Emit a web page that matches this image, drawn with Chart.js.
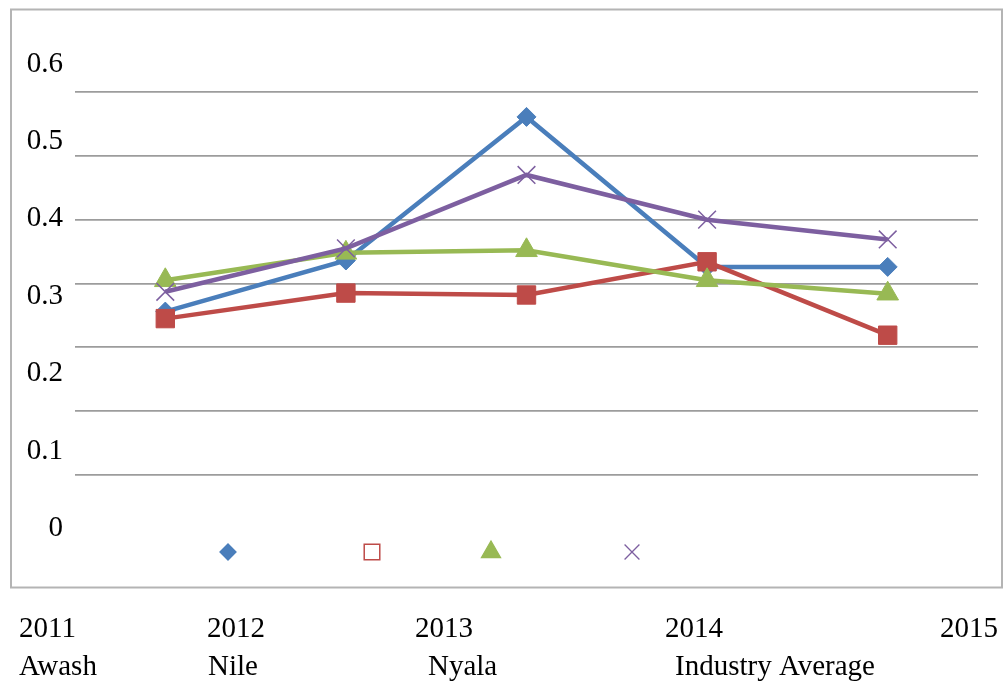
<!DOCTYPE html>
<html>
<head>
<meta charset="utf-8">
<script src="https://cdn.jsdelivr.net/npm/chart.js@4.4.1/dist/chart.umd.min.js"></script>
<style>
  html, body { margin: 0; padding: 0; background: #fff; }
  #wrap { width: 1003px; height: 682px; position: relative; }
</style>
</head>
<body>
<div id="wrap"><canvas id="chart" width="1003" height="682"></canvas></div>
<script>
// chart data
const years = ["2011", "2012", "2013", "2014", "2015"];
const seriesNames = ["Awash", "Nile", "Nyala", "Industry Average"];
const awash = [0.256, 0.336, 0.561, 0.326, 0.326];
const nile = [0.245, 0.285, 0.282, 0.334, 0.219];
const nyala = [0.305, 0.348, 0.352, 0.305, 0.284];
const industryAvg = [0.287, 0.355, 0.470, 0.400, 0.369];
const yTickLabels = ["0.6", "0.5", "0.4", "0.3", "0.2", "0.1", "0"];

const colors = ["#4a7ebb", "#be4b48", "#98b954", "#7d5fa0"];
const styles = ["rectRot", "rect", "triangle", "crossRot"];
const FONT = '29px "Liberation Serif", "Times New Roman", serif';

// the stray labels, frame and legend markers of the scanned figure
const decor = {
    id: "decor",
    beforeDraw(chart) {
        const ctx = chart.ctx;
        ctx.save();
        ctx.strokeStyle = "#b4b4b4";
        ctx.lineWidth = 2;
        ctx.strokeRect(11, 9.5, 991, 578);
        ctx.restore();
    },
    afterDraw(chart) {
        const ctx = chart.ctx;
        ctx.save();
        ctx.fillStyle = "#000";
        ctx.font = FONT;
        ctx.textBaseline = "middle";

        // y labels (misplaced relative to the grid, as in the original)
        ctx.textAlign = "right";
        yTickLabels.forEach((t, i) => ctx.fillText(t, 63, 64 + i * 77.4));

        // year labels and series names fell below the frame
        ctx.textAlign = "left";
        const yearX = [19, 207, 415, 665, 940];
        years.forEach((t, i) => ctx.fillText(t, yearX[i], 629));
        const nameX = [19, 208, 428, 675];
        seriesNames.forEach((t, i) => ctx.fillText(t, nameX[i], 667));

        // legend markers left behind inside the frame
        const markX = [228, 372, 491, 632];
        const markR = [8, 11, 11, 10.5];
        styles.forEach((s, i) => {
            ctx.strokeStyle = colors[i];
            ctx.fillStyle = s === "rect" ? "#fff" : colors[i];
            ctx.lineWidth = s === "rect" ? 1.5 : 1.3;
            Chart.helpers.drawPoint(ctx, { pointStyle: s, radius: markR[i], rotation: 0, borderWidth: ctx.lineWidth }, markX[i], 552);
        });
        ctx.restore();
    }
};

const allSeries = [awash, nile, nyala, industryAvg];
const radii = [9.5, 13, 12.5, 12.5];

new Chart(document.getElementById("chart"), {
    type: "line",
    data: {
        labels: years,
        datasets: allSeries.map((data, i) => ({
            label: seriesNames[i],
            data: data,
            borderColor: colors[i],
            backgroundColor: colors[i],
            borderWidth: 4.5,
            pointStyle: styles[i],
            pointRadius: radii[i],
            pointBorderWidth: styles[i] === "crossRot" ? 1.5 : 1,
            pointBackgroundColor: colors[i],
            pointBorderColor: colors[i],
            tension: 0,
            fill: false,
            order: 4 - i
        }))
    },
    options: {
        responsive: false,
        animation: false,
        layout: { padding: { left: 75, right: 25, top: 92, bottom: 207 } },
        plugins: { legend: { display: false }, tooltip: { enabled: false } },
        scales: {
            x: { display: false, offset: true },
            y: {
                min: 0,
                max: 0.6,
                ticks: { display: false, stepSize: 0.1 },
                border: { display: false },
                grid: { color: "#9c9c9c", lineWidth: 1.7, drawTicks: false }
            }
        }
    },
    plugins: [decor]
});
</script>
</body>
</html>
